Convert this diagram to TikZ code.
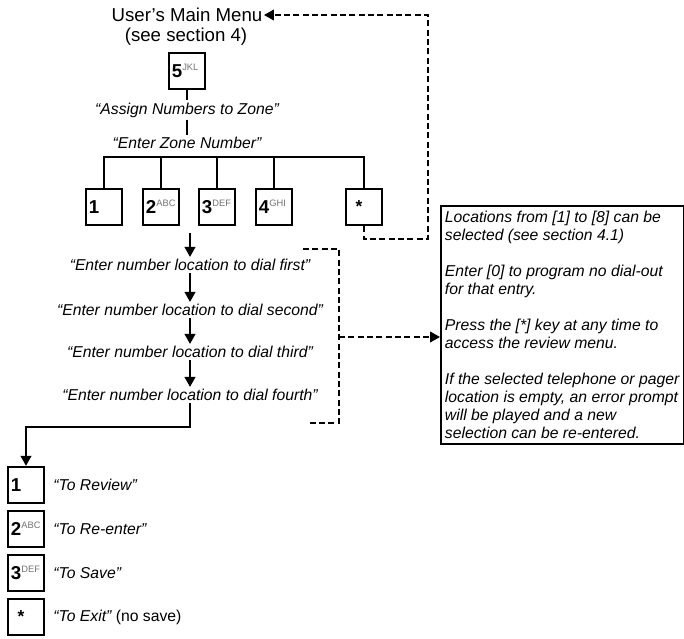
\documentclass[tikz,border=0pt]{standalone}
\usepackage{fontspec}
\setmainfont{Liberation Sans}
\usetikzlibrary{arrows.meta}
\definecolor{keygray}{gray}{0.45}
\newcommand\keyd[2]{{\fontsize{14}{14}\selectfont\bfseries #1}\raisebox{5pt}{\fontsize{7}{7}\selectfont\color{keygray}#2}}
\tikzset{
  keybox/.style={draw, line width=1.8pt, minimum width=27pt, minimum height=27pt,
    inner xsep=2.2pt, inner ysep=0pt, text width=22.6pt, align=left},
  hdr/.style={font=\fontsize{14}{16}\selectfont, inner sep=1pt},
  prompt/.style={font=\fontsize{11.8}{13}\selectfont\itshape, inner sep=1.5pt},
  lbl/.style={font=\fontsize{11.8}{13}\selectfont, anchor=west, inner sep=0pt},
  conn/.style={line width=1.5pt},
  dconn/.style={line width=1.4pt, dash pattern=on 4.5pt off 2.5pt},
  tip/.style={-{Triangle[length=7.5pt,width=8pt]}},
  notebox/.style={draw, line width=1.2pt, anchor=north west, align=left,
    minimum width=182pt, inner xsep=3pt, inner ysep=4pt,
    font=\fontsize{11.8}{13.5}\selectfont\itshape}
}
\begin{document}
\begin{tikzpicture}[x=0.75pt,y=-0.75pt]
\useasboundingbox (0,0) rectangle (684,638);
% header
\node[hdr] (menu) at (187,15) {User’s Main Menu};
\node[hdr] (sec) at (186,37) {(see section 4)};
\node[keybox] (k5) at (187,71) {\keyd{5}{JKL}};
\node[prompt] (assign) at (187,110) {“Assign Numbers to Zone”};
\node[prompt] (ezn) at (187,143) {“Enter Zone Number”};
\draw[conn] (k5.south) -- (assign.north);
\draw[conn] (assign.south) -- (ezn.north);
% zone keys
\node[keybox] (k1) at (104,207) {\keyd{1}{}};
\node[keybox] (k2) at (161,207) {\keyd{2}{ABC}};
\node[keybox] (k3) at (217,207) {\keyd{3}{DEF}};
\node[keybox] (k4) at (274,207) {\keyd{4}{GHI}};
\node[keybox] (ks) at (364,207) {\hspace*{5pt}{\fontsize{13}{13}\selectfont\bfseries *}};
\coordinate (bus) at (187,157);
\draw[conn] (k1.north) |- (bus) -| (ks.north);
\foreach \k in {k2,k3,k4} \draw[conn] (\k.north) -- (\k.north |- bus);
% prompts sequence
\coordinate (seqstart) at (190,233);
\node[prompt] (t1) at (190,265) {“Enter number location to dial first”};
\node[prompt] (t2) at (190,310) {“Enter number location to dial second”};
\node[prompt] (t3) at (190,352) {“Enter number location to dial third”};
\node[prompt] (t4) at (190,395) {“Enter number location to dial fourth”};
\draw[conn,tip] (seqstart) -- (t1.north);
\draw[conn,tip] (t1.south) -- (t2.north);
\draw[conn,tip] (t2.south) -- (t3.north);
\draw[conn,tip] (t3.south) -- (t4.north);
% bottom keys
\node[keybox] (b1) at (26,485) {\keyd{1}{}};
\node[keybox] (b2) at (26,529) {\keyd{2}{ABC}};
\node[keybox] (b3) at (26,573) {\keyd{3}{DEF}};
\node[keybox] (bs) at (26,617) {\hspace*{5pt}{\fontsize{13}{13}\selectfont\bfseries *}};
\node[lbl] (l1) at ([xshift=6pt]b1.east) {\itshape “To Review”};
\node[lbl] (l2) at ([xshift=6pt]b2.east) {\itshape “To Re-enter”};
\node[lbl] (l3) at ([xshift=6pt]b3.east) {\itshape “To Save”};
\node[lbl] (l4) at ([xshift=6pt]bs.east) {{\itshape “To Exit”} (no save)};
\coordinate (turn) at (190,427);
\draw[conn,tip] (t4.south) -- (turn) -| (b1.north);
% note box
\node[notebox] (note) at (440,205) {Locations from [1] to [8] can be\\
selected (see section 4.1)\\[13.5pt]
Enter [0] to program no dial-out\\
for that entry.\\[13.5pt]
Press the [*] key at any time to\\
access the review menu.\\[13.5pt]
If the selected telephone or pager\\
location is empty, an error prompt\\
will be played and a new\\
selection can be re-entered.};
% dashed bracket
\coordinate (brtop) at (303,249);
\coordinate (brbot) at (307,423);
\coordinate (brmid) at (339,337);
\draw[dconn] (brtop) -| (brbot -| brmid) -- (brbot);
\draw[dconn,tip] (brmid) -- (note.west |- brmid);
% loop back to main menu
\coordinate (loopc) at (428,239);
\draw[dconn,tip] (ks.south) |- (loopc) |- (menu.east);
\end{tikzpicture}
\end{document}
